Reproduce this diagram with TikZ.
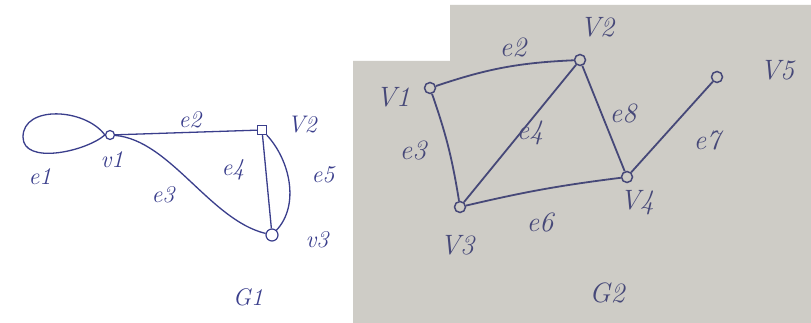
\documentclass[tikz,border=0pt]{standalone}
\usepackage{fontspec}
\setmainfont{Latin Modern Roman}
\begin{document}
\begin{tikzpicture}[x=1pt,y=1pt,
  ink/.style={draw=inkc, line width=1.3pt},
  ink2/.style={draw=inkd, line width=1.8pt},
  vtx/.style={circle, draw=inkc, line width=1.2pt, inner sep=0pt, minimum size=9pt},
  vtxsq/.style={rectangle, draw=inkc, line width=1.2pt, inner sep=0pt, minimum size=9pt},
  vtx2/.style={circle, draw=inkd, line width=1.5pt, inner sep=0pt, minimum size=11pt},
  lab/.style={text=inkc, font=\fontsize{24}{26}\selectfont\itshape, inner sep=0pt},
  lab2/.style={text=inkd, font=\fontsize{28}{30}\selectfont\itshape, inner sep=0pt}]
\definecolor{inkc}{RGB}{58,62,140}
\definecolor{inkd}{RGB}{70,72,120}
\definecolor{paper}{RGB}{206,204,198}
\useasboundingbox (0,0) rectangle (811,-323);
\fill[white] (0,0) rectangle (811,-323);
\fill[paper] (353,-61) -- (450,-61) -- (450,-5) -- (811,-5) -- (811,-323) -- (353,-323) -- cycle;
% G1
\node[vtx] (a1) at (110,-135) {};
\node[vtxsq] (a2) at (262,-130) {};
\node[vtx, minimum size=12pt] (a3) at (272,-235) {};
\coordinate (lp) at (23,-137);
\draw[ink] (a1.west) .. controls (85,-108) and (23,-105) .. (lp) .. controls (23,-165) and (85,-152) .. (a1.west);
\draw[ink] (a1) -- (a2);
\draw[ink] (a1) .. controls (170,-140) and (210,-220) .. (a3);
\draw[ink] (a2) -- (a3);
\draw[ink] (a2) .. controls (290,-160) and (300,-205) .. (a3);
\node[lab] (le1) at (40,-177) {e1};
\node[lab] (lv1) at (112,-160) {v1};
\node[lab] (le2) at (190,-120) {e2};
\node[lab] (lv2) at (302,-125) {V2};
\node[lab] (le3) at (163,-195) {e3};
\node[lab] (le4) at (233,-170) {e4};
\node[lab] (le5) at (323,-175) {e5};
\node[lab] (lv3) at (317,-240) {v3};
\node[lab] (lg1) at (248,-297) {G1};
% G2
\node[vtx2] (b1) at (430,-88) {};
\node[vtx2] (b2) at (580,-60) {};
\node[vtx2] (b3) at (460,-207) {};
\node[vtx2] (b4) at (627,-177) {};
\node[vtx2] (b5) at (717,-77) {};
\draw[ink2] (b1) to[bend left=8] (b2);
\draw[ink2] (b1) to[bend left=5] (b3);
\draw[ink2] (b2) -- (b3);
\draw[ink2] (b2) -- (b4);
\draw[ink2] (b3) to[bend left=3] (b4);
\draw[ink2] (b4) -- (b5);
\node[lab2] (mv1) at (393,-97) {V1};
\node[lab2] (mv2) at (597,-27) {V2};
\node[lab2] (mv5) at (777,-70) {V5};
\node[lab2] (me2) at (513,-47) {e2};
\node[lab2] (me4) at (530,-133) {e4};
\node[lab2] (me8) at (623,-113) {e8};
\node[lab2] (me7) at (707,-140) {e7};
\node[lab2] (me3) at (413,-150) {e3};
\node[lab2] (me6) at (540,-222) {e6};
\node[lab2] (mv4) at (637,-203) {V4};
\node[lab2] (mv3) at (457,-245) {V3};
\node[lab2] (mg2) at (607,-293) {G2};
\end{tikzpicture}
\end{document}
